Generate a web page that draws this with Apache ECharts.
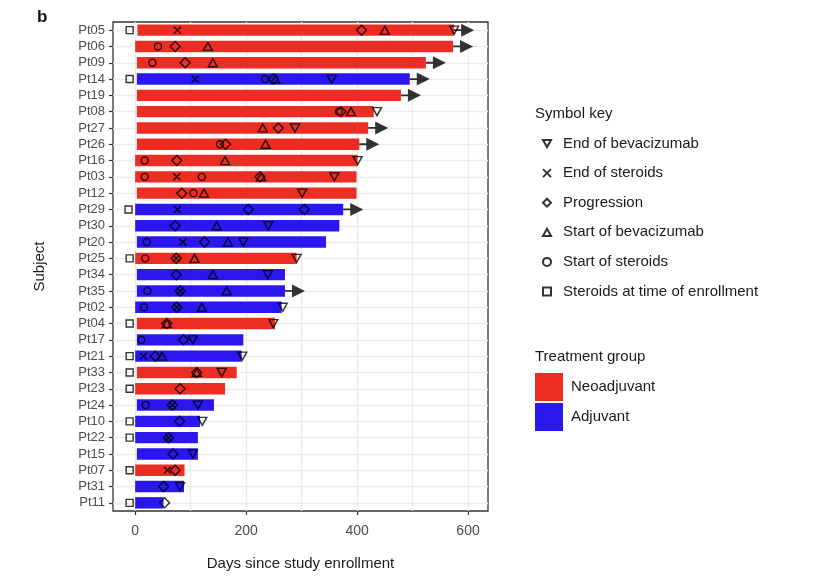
<!DOCTYPE html>
<html>
<head>
<meta charset="utf-8">
<title>Swimmer plot</title>
<script src="https://cdn.jsdelivr.net/npm/echarts@6/dist/echarts.min.js"></script>
<style>
  html, body { margin: 0; padding: 0; background: #fff; }
  #chart { width: 840px; height: 576px; }
</style>
</head>
<body>
<div id="chart"></div>
<script>
// Subjects, top to bottom
const subjects = ['Pt05','Pt06','Pt09','Pt14','Pt19','Pt08','Pt27','Pt26','Pt16','Pt03',
                  'Pt12','Pt29','Pt30','Pt20','Pt25','Pt34','Pt35','Pt02','Pt04','Pt17',
                  'Pt21','Pt33','Pt23','Pt24','Pt10','Pt22','Pt15','Pt07','Pt31','Pt11'];
const treatment = ['Neoadjuvant','Neoadjuvant','Neoadjuvant','Adjuvant','Neoadjuvant','Neoadjuvant','Neoadjuvant','Neoadjuvant','Neoadjuvant','Neoadjuvant',
                   'Neoadjuvant','Adjuvant','Adjuvant','Adjuvant','Neoadjuvant','Adjuvant','Adjuvant','Adjuvant','Neoadjuvant','Adjuvant',
                   'Adjuvant','Neoadjuvant','Neoadjuvant','Adjuvant','Adjuvant','Adjuvant','Adjuvant','Neoadjuvant','Adjuvant','Adjuvant'];
// Follow-up interval per subject (days since enrollment)
const barStart = [4,0,3,3,3,3,3,3,0,0, 3,0,0,3,0,3,3,0,3,3, 0,3,0,3,0,0,3,0,0,0];
const barEnd   = [575,573,524,495,479,430,420,404,401,399, 399,375,368,344,291,270,270,264,252,195, 192,183,162,142,117,113,113,89,88,51];
// Subjects still on study
const ongoing = ['Pt05','Pt06','Pt09','Pt14','Pt19','Pt27','Pt26','Pt29','Pt35'];

// Events: [subject, day]
const endBevacizumab = [['Pt05',575],['Pt14',354],['Pt08',436],['Pt27',288],['Pt16',401],['Pt03',359],
  ['Pt12',301],['Pt30',240],['Pt20',195],['Pt25',291],['Pt34',239],['Pt02',266],['Pt04',249],
  ['Pt17',104],['Pt21',193],['Pt33',156],['Pt24',113],['Pt10',121],['Pt15',104],['Pt31',81]];
const endSteroids = [['Pt05',76],['Pt14',108],['Pt03',75],['Pt29',76],['Pt20',86],['Pt25',74],
  ['Pt35',81],['Pt02',75],['Pt21',15],['Pt24',67],['Pt22',60],['Pt07',58]];
const progression = [['Pt05',408],['Pt06',72],['Pt09',90],['Pt14',249],['Pt08',371],['Pt27',258],
  ['Pt26',163],['Pt16',75],['Pt03',225],['Pt12',84],['Pt29',204],['Pt29',305],['Pt30',72],['Pt20',125],
  ['Pt25',74],['Pt34',74],['Pt35',81],['Pt02',75],['Pt04',57],['Pt17',87],['Pt21',36],['Pt33',111],
  ['Pt23',81],['Pt24',67],['Pt10',80],['Pt22',60],['Pt15',68],['Pt07',72],['Pt31',51],['Pt11',53]];
const startBevacizumab = [['Pt05',450],['Pt06',131],['Pt09',140],['Pt14',253],['Pt08',389],['Pt27',230],
  ['Pt26',235],['Pt16',162],['Pt03',227],['Pt12',124],['Pt30',147],['Pt20',167],['Pt25',107],['Pt34',140],
  ['Pt35',165],['Pt02',120],['Pt04',57],['Pt21',48],['Pt33',111]];
const startSteroids = [['Pt06',41],['Pt09',31],['Pt14',234],['Pt08',367],['Pt26',153],['Pt16',17],
  ['Pt03',17],['Pt03',120],['Pt12',105],['Pt20',21],['Pt25',18],['Pt35',22],['Pt02',16],['Pt17',11],['Pt24',19]];
const steroidsAtEnrollment = [['Pt05',-10],['Pt14',-10],['Pt29',-12],['Pt25',-10],['Pt04',-10],['Pt21',-10],
  ['Pt33',-10],['Pt23',-10],['Pt10',-10],['Pt22',-10],['Pt07',-10],['Pt11',-10]];

const xGridValues = [0,100,200,300,400,500,600];
const xTickLabels = [0,200,400,600];

const groupColors = { Neoadjuvant: '#EC2D23', Adjuvant: '#2A17EE' };
const FONT = '"Liberation Sans", Arial, Helvetica, sans-serif';

const chart = echarts.init(document.getElementById('chart'), null, { renderer: 'canvas' });

function groupBars(name) {
  return subjects.map((s, i) => treatment[i] === name ? barEnd[i] - barStart[i] : '-');
}

const openStyle = { color: 'rgba(0,0,0,0)', borderColor: '#000', borderWidth: 1.4 };

function eventSeries(name, events, symbol, size) {
  return {
    name: name,
    type: 'scatter',
    z: 4,
    symbol: symbol,
    symbolSize: size,
    itemStyle: openStyle,
    emphasis: { disabled: true },
    data: events.map(e => [e[1], e[0]])
  };
}

const SYM = {
  invTriangle: 'path://M0,0 L10,0 L5,9 Z',
  cross: 'path://M0,0 L10,10 M10,0 L0,10',
  diamond: 'diamond',
  triangle: 'path://M5,0 L10,9 L0,9 Z',
  circle: 'circle',
  square: 'rect',
  arrow: 'path://M0,5.6 L7,5.6 L7,0 L20,6.5 L7,13 L7,7.4 L0,7.4 Z'
};

const option = {
  backgroundColor: '#ffffff',
  animation: false,
  textStyle: { fontFamily: FONT },
  title: [
    { text: 'b', left: 32, top: 4, textStyle: { fontFamily: FONT, fontSize: 17, fontWeight: 'bold', color: '#111' } },
    { text: 'Symbol key', left: 530, top: 101, textStyle: { fontFamily: FONT, fontSize: 15, fontWeight: 'normal', color: '#1a1a1a' } },
    { text: 'Treatment group', left: 530, top: 344, textStyle: { fontFamily: FONT, fontSize: 15, fontWeight: 'normal', color: '#1a1a1a' } }
  ],
  legend: [
    {
      orient: 'vertical',
      left: 537,
      top: 131,
      itemWidth: 8,
      itemHeight: 8,
      itemGap: 14.6,
      selectedMode: false,
      data: ['End of bevacizumab','End of steroids','Progression','Start of bevacizumab','Start of steroids','Steroids at time of enrollment'],
      textStyle: { fontFamily: FONT, fontSize: 15, color: '#1a1a1a', padding: [0, 0, 0, 7] }
    },
    {
      orient: 'vertical',
      left: 530,
      top: 368,
      itemWidth: 28,
      itemHeight: 28,
      itemGap: 2,
      icon: 'rect',
      selectedMode: false,
      data: ['Neoadjuvant','Adjuvant'],
      textStyle: { fontFamily: FONT, fontSize: 15, color: '#1a1a1a', padding: [0, 0, 0, 3] }
    }
  ],
  grid: {
    left: 113, right: 352, top: 22, bottom: 64,
    show: true, backgroundColor: '#fff', borderColor: '#333', borderWidth: 1.3,
    containLabel: false
  },
  xAxis: {
    type: 'value',
    min: -40,
    max: 636,
    name: 'Days since study enrollment',
    nameLocation: 'middle',
    nameGap: 45,
    nameTextStyle: { fontFamily: FONT, fontSize: 15, color: '#1a1a1a' },
    axisLine: { show: false, onZero: false },
    axisTick: { show: true, length: 4, customValues: xTickLabels, lineStyle: { color: '#333', width: 1.2 } },
    axisLabel: { customValues: xTickLabels, fontFamily: FONT, fontSize: 14, color: '#4d4d4d', margin: 13 },
    splitLine: { show: false }
  },
  yAxis: {
    type: 'category',
    data: subjects,
    inverse: true,
    name: 'Subject',
    nameLocation: 'middle',
    nameGap: 66,
    nameRotate: 90,
    nameTextStyle: { fontFamily: FONT, fontSize: 15, color: '#1a1a1a' },
    axisLine: { show: false, onZero: false },
    axisTick: { show: true, alignWithLabel: true, interval: 0, length: 4, lineStyle: { color: '#333', width: 1.2 } },
    axisLabel: { interval: 0, fontFamily: FONT, fontSize: 13, color: '#4d4d4d', margin: 8 },
    splitLine: { show: false }
  },
  series: [
    {
      // invisible offset so each bar starts on its own first day; also carries the panel grid
      name: 'offset',
      type: 'bar',
      stack: 'follow',
      z: 1,
      barWidth: '70%',
      itemStyle: { color: 'rgba(0,0,0,0)' },
      emphasis: { disabled: true },
      data: barStart,
      markLine: {
        silent: true,
        z: 0,
        symbol: 'none',
        label: { show: false },
        lineStyle: { color: '#EBEBEB', width: 1.3, type: 'solid' },
        emphasis: { disabled: true },
        data: xGridValues.map(v => ({ xAxis: v })).concat(subjects.map(s => ({ yAxis: s })))
      }
    },
    {
      name: 'Neoadjuvant',
      type: 'bar',
      stack: 'follow',
      z: 2,
      barWidth: '70%',
      itemStyle: { color: groupColors.Neoadjuvant },
      emphasis: { disabled: true },
      data: groupBars('Neoadjuvant')
    },
    {
      name: 'Adjuvant',
      type: 'bar',
      stack: 'follow',
      z: 2,
      barWidth: '70%',
      itemStyle: { color: groupColors.Adjuvant },
      emphasis: { disabled: true },
      data: groupBars('Adjuvant')
    },
    {
      name: 'Ongoing',
      type: 'scatter',
      z: 5,
      symbol: SYM.arrow,
      symbolSize: [20, 13],
      symbolOffset: [10, 0],
      itemStyle: { color: '#000' },
      emphasis: { disabled: true },
      data: ongoing.map(s => [barEnd[subjects.indexOf(s)], s])
    },
    eventSeries('End of bevacizumab', endBevacizumab, SYM.invTriangle, [9, 8]),
    eventSeries('End of steroids', endSteroids, SYM.cross, 7),
    eventSeries('Progression', progression, SYM.diamond, 10),
    eventSeries('Start of bevacizumab', startBevacizumab, SYM.triangle, [9, 8]),
    eventSeries('Start of steroids', startSteroids, SYM.circle, 7),
    eventSeries('Steroids at time of enrollment', steroidsAtEnrollment, SYM.square, 7)
  ]
};

chart.setOption(option);
</script>
</body>
</html>
